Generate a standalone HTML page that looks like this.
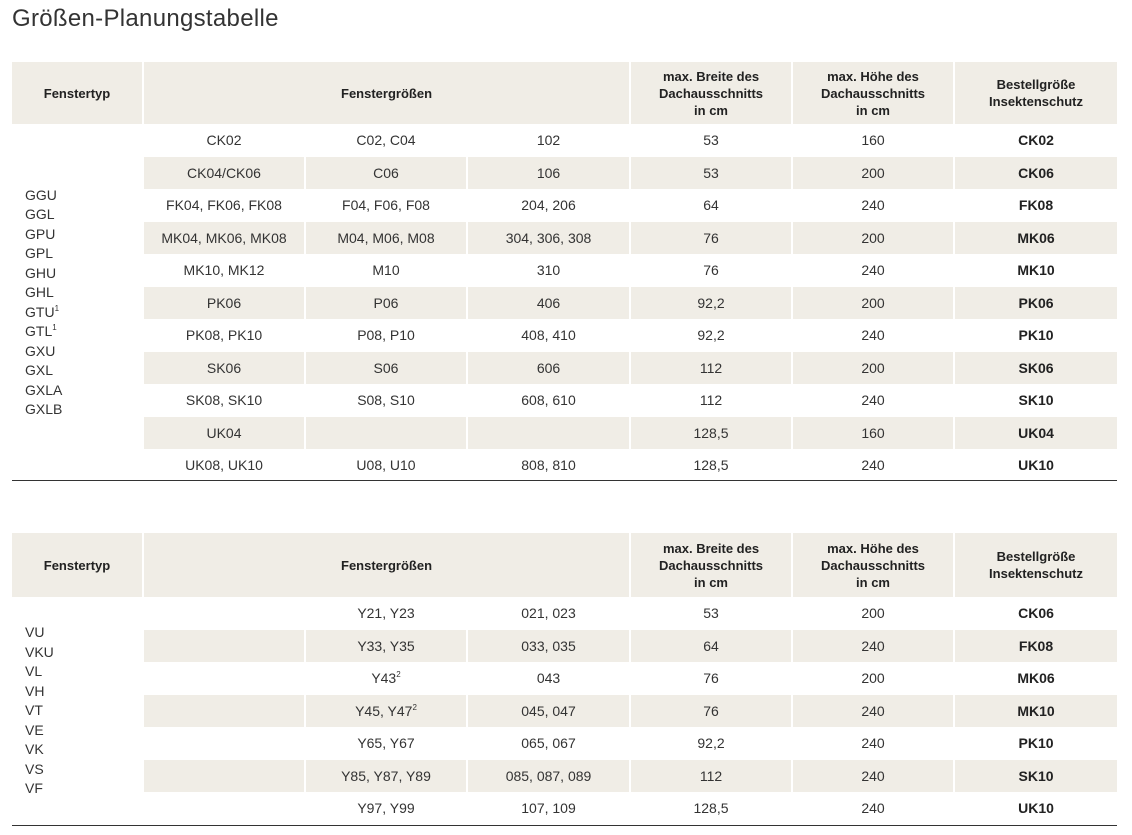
<!DOCTYPE html>
<html><head><meta charset="utf-8">
<style>
body{margin:0;background:#fff;width:1132px;height:835px;overflow:hidden;font-family:"Liberation Sans",sans-serif;color:#333;}
h1{position:absolute;left:12px;top:5px;margin:0;font-weight:normal;font-size:24px;color:#333;letter-spacing:0.3px;}
table{position:absolute;left:12px;width:1105px;table-layout:fixed;border-collapse:collapse;}
th{background:#f0ede6;font-size:13px;font-weight:bold;line-height:17px;color:#222;border-left:2px solid #fff;padding:0;text-align:center;}
th:first-child{border-left:none;}
td{font-size:14px;text-align:center;padding:0;height:32.5px;border-left:2px solid #fff;color:#333;}
tr.s td{background:#f0ede6;}
td.t{background:#fff !important;text-align:left;padding-left:13px;line-height:19.5px;border-left:none;}
td.b{font-weight:bold;color:#222;}
sup{font-size:8px;line-height:0;vertical-align:6px;}
.line{position:absolute;left:12px;width:1105px;height:1px;background:#333;}
</style></head><body>
<h1>Größen-Planungstabelle</h1>

<table style="top:62px">
<colgroup><col style="width:131px"><col style="width:162px"><col style="width:162px"><col style="width:163px"><col style="width:162px"><col style="width:162px"><col style="width:163px"></colgroup>
<thead><tr style="height:62px"><th>Fenstertyp</th><th colspan="3">Fenstergrößen</th><th>max. Breite des<br>Dachausschnitts<br>in cm</th><th>max. Höhe des<br>Dachausschnitts<br>in cm</th><th>Bestellgröße<br>Insektenschutz</th></tr></thead>
<tbody>
<tr><td class="t" rowspan="11">GGU<br>GGL<br>GPU<br>GPL<br>GHU<br>GHL<br>GTU<sup>1</sup><br>GTL<sup>1</sup><br>GXU<br>GXL<br>GXLA<br>GXLB</td><td>CK02</td><td>C02, C04</td><td>102</td><td>53</td><td>160</td><td class="b">CK02</td></tr>
<tr class="s"><td>CK04/CK06</td><td>C06</td><td>106</td><td>53</td><td>200</td><td class="b">CK06</td></tr>
<tr><td>FK04, FK06, FK08</td><td>F04, F06, F08</td><td>204, 206</td><td>64</td><td>240</td><td class="b">FK08</td></tr>
<tr class="s"><td>MK04, MK06, MK08</td><td>M04, M06, M08</td><td>304, 306, 308</td><td>76</td><td>200</td><td class="b">MK06</td></tr>
<tr><td>MK10, MK12</td><td>M10</td><td>310</td><td>76</td><td>240</td><td class="b">MK10</td></tr>
<tr class="s"><td>PK06</td><td>P06</td><td>406</td><td>92,2</td><td>200</td><td class="b">PK06</td></tr>
<tr><td>PK08, PK10</td><td>P08, P10</td><td>408, 410</td><td>92,2</td><td>240</td><td class="b">PK10</td></tr>
<tr class="s"><td>SK06</td><td>S06</td><td>606</td><td>112</td><td>200</td><td class="b">SK06</td></tr>
<tr><td>SK08, SK10</td><td>S08, S10</td><td>608, 610</td><td>112</td><td>240</td><td class="b">SK10</td></tr>
<tr class="s"><td>UK04</td><td></td><td></td><td>128,5</td><td>160</td><td class="b">UK04</td></tr>
<tr><td>UK08, UK10</td><td>U08, U10</td><td>808, 810</td><td>128,5</td><td>240</td><td class="b">UK10</td></tr>
</tbody></table>
<div class="line" style="top:480px"></div>

<table style="top:533px">
<colgroup><col style="width:131px"><col style="width:162px"><col style="width:162px"><col style="width:163px"><col style="width:162px"><col style="width:162px"><col style="width:163px"></colgroup>
<thead><tr style="height:64px"><th>Fenstertyp</th><th colspan="3">Fenstergrößen</th><th>max. Breite des<br>Dachausschnitts<br>in cm</th><th>max. Höhe des<br>Dachausschnitts<br>in cm</th><th>Bestellgröße<br>Insektenschutz</th></tr></thead>
<tbody>
<tr><td class="t" rowspan="7">VU<br>VKU<br>VL<br>VH<br>VT<br>VE<br>VK<br>VS<br>VF</td><td></td><td>Y21, Y23</td><td>021, 023</td><td>53</td><td>200</td><td class="b">CK06</td></tr>
<tr class="s"><td></td><td>Y33, Y35</td><td>033, 035</td><td>64</td><td>240</td><td class="b">FK08</td></tr>
<tr><td></td><td>Y43<sup>2</sup></td><td>043</td><td>76</td><td>200</td><td class="b">MK06</td></tr>
<tr class="s"><td></td><td>Y45, Y47<sup>2</sup></td><td>045, 047</td><td>76</td><td>240</td><td class="b">MK10</td></tr>
<tr><td></td><td>Y65, Y67</td><td>065, 067</td><td>92,2</td><td>240</td><td class="b">PK10</td></tr>
<tr class="s"><td></td><td>Y85, Y87, Y89</td><td>085, 087, 089</td><td>112</td><td>240</td><td class="b">SK10</td></tr>
<tr><td></td><td>Y97, Y99</td><td>107, 109</td><td>128,5</td><td>240</td><td class="b">UK10</td></tr>
</tbody></table>
<div class="line" style="top:825px"></div>
</body></html>
